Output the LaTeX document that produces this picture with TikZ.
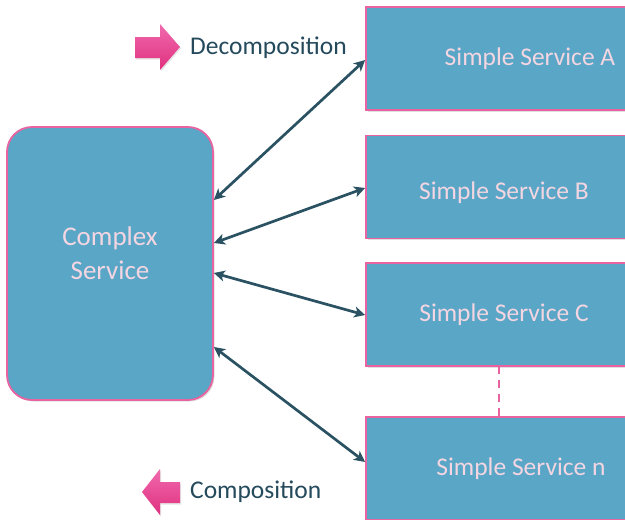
\documentclass[tikz,border=0pt]{standalone}
\usepackage{fontspec}
\setmainfont{Carlito}
\usetikzlibrary{shadows,arrows.meta}
\definecolor{boxfill}{HTML}{5AA6C6}
\definecolor{boxline}{HTML}{E8639F}
\definecolor{boxtext}{HTML}{F3D6E2}
\definecolor{labtext}{HTML}{244A5C}
\definecolor{conn}{HTML}{2A5262}
\definecolor{pinkA}{HTML}{F06AAE}
\definecolor{pinkB}{HTML}{E0307F}
\tikzset{
  svcbox/.style={draw=boxline, line width=1.8pt, fill=boxfill, text=boxtext,
    font=\fontsize{25.5}{30}\selectfont, minimum height=103pt, inner sep=0pt,
    drop shadow={opacity=0.25, shadow xshift=1.5pt, shadow yshift=-1.5pt}},
  boxlab/.style={text=boxtext, font=\fontsize{25.5}{30}\selectfont, inner sep=0pt},
  lab/.style={text=labtext, font=\fontsize{25.5}{30}\selectfont, anchor=west, inner sep=0pt},
  link/.style={conn, line width=2.7pt, {Stealth[length=11pt,width=11pt,inset=3pt]}-{Stealth[length=11pt,width=11pt,inset=3pt]}},
  blockarrow/.style={top color=pinkA, bottom color=pinkB, draw=none,
    drop shadow={opacity=0.2, shadow xshift=1pt, shadow yshift=-1.5pt}},
}
\begin{document}
\begin{tikzpicture}[x=1pt,y=-1pt]
\useasboundingbox (0,0) rectangle (625,520);
\clip (0,0) rectangle (625,520);
\fill[white] (0,0) rectangle (625,520);

\node[svcbox, rounded corners=25pt, minimum width=206pt, minimum height=273pt] (cx) at (110,263.5) {};
\node[boxlab, font=\fontsize{27}{34}\selectfont, align=center] (cxt) at (110,253) {Complex\\Service};

\node[svcbox, minimum width=328pt] (sa) at (530,58.5) {Simple Service A};
\node[svcbox, minimum width=276pt] (sb) at (504,187) {};
\node[boxlab] (sbt) at (504,193) {Simple Service B};
\node[svcbox, minimum width=276pt] (sc) at (504,314.5) {Simple Service C};
\node[svcbox, minimum width=310pt] (sn) at (521,468.5) {Simple Service n};

\draw[boxline, line width=2.8pt, dash pattern=on 8pt off 6pt] (sn.north -| 499,0) -- (sc.south -| 499,0);

\draw[link] ([yshift=63.5pt]cx.east) -- ([yshift=-1.5pt]sa.west);
\draw[link] ([yshift=20.5pt]cx.east) -- ([yshift=-1pt]sb.west);
\draw[link] ([yshift=-9.5pt]cx.east) -- ([yshift=-0.5pt]sc.west);
\draw[link] ([yshift=-83.5pt]cx.east) -- ([yshift=6.5pt]sn.west);

\path[blockarrow] (135,37) -- (160,37) -- (160,24) -- (180,47) -- (160,70) -- (160,58) -- (135,58) -- cycle;
\node[lab] (dec) at (190,48) {Decomposition};

\path[blockarrow] (180,482) -- (160,482) -- (160,469) -- (142,492) -- (160,515) -- (160,503) -- (180,503) -- cycle;
\node[lab] (com) at (190,492) {Composition};
\end{tikzpicture}
\end{document}
